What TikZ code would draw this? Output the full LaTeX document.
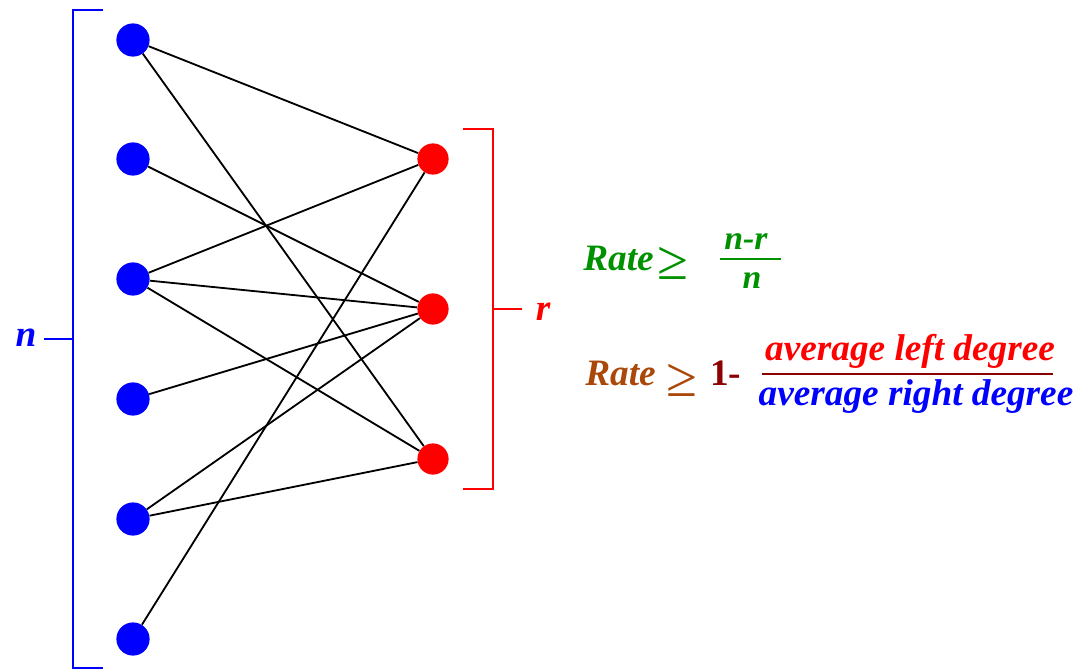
\documentclass[tikz,border=0pt]{standalone}
\usepackage{fontspec}
\setmainfont{Liberation Serif}
\definecolor{rategreen}{RGB}{0,145,0}
\definecolor{ratebrown}{RGB}{170,72,10}
\definecolor{darkred}{RGB}{140,0,0}

\begin{document}
\begin{tikzpicture}[x=0.025cm, y=-0.025cm,
    lvar/.style={circle, fill=blue, inner sep=0pt, minimum size=0.83cm},
    rvar/.style={circle, fill=red, inner sep=0pt, minimum size=0.78cm},
    link/.style={black, line width=1.3pt},
    bracket/.style={line width=2pt},
    txt/.style={inner sep=0pt, font=\fontsize{26.5}{30}\selectfont\bfseries\itshape},
    geq/.style={inner sep=0pt, font=\fontsize{40}{40}\selectfont}]
    \useasboundingbox (0,0) rectangle (1086,670);
    % Left variables
    \node[lvar] (l1) at (133,40) {};
    \node[lvar] (l2) at (133,159) {};
    \node[lvar] (l3) at (133,279) {};
    \node[lvar] (l4) at (133,399) {};
    \node[lvar] (l5) at (133,519) {};
    \node[lvar] (l6) at (133,639) {};
    % Right checks
    \node[rvar] (r1) at (433,159) {};
    \node[rvar] (r2) at (433,309) {};
    \node[rvar] (r3) at (433,459) {};
    % Edges
    \draw[link] (l1) -- (r1);
    \draw[link] (l1) -- (r3);
    \draw[link] (l2) -- (r2);
    \draw[link] (l3) -- (r1);
    \draw[link] (l3) -- (r2);
    \draw[link] (l3) -- (r3);
    \draw[link] (l4) -- (r2);
    \draw[link] (l5) -- (r2);
    \draw[link] (l5) -- (r3);
    \draw[link] (l6) -- (r1);
    % Brackets
    \draw[bracket, blue] (103,10) -- (73,10) -- (73,668) -- (103,668);
    \draw[bracket, blue] (73,339) -- (44,339);
    \node[txt, blue, anchor=base] (nlab) at (26,346) {n};
    \draw[bracket, red] (463,129) -- (493,129) -- (493,489) -- (463,489);
    \draw[bracket, red] (493,309) -- (522,309);
    \node[txt, red, anchor=base] (rlab) at (543,320) {r};
    % First bound
    \node[txt, rategreen, anchor=base west] (rate1) at (583,270) {Rate};
    \node[geq, rategreen, anchor=base west] (geq1) at (657,279) {≥};
    \node[txt, rategreen, anchor=base, font=\fontsize{24}{28}\selectfont\bfseries\itshape] (num1) at (746,249) {n-r};
    \node[txt, rategreen, anchor=base, font=\fontsize{24}{28}\selectfont\bfseries\itshape] (den1) at (752,288) {n};
    \draw[rategreen, line width=1.5pt] (720,259) -- (781,259);
    % Second bound
    \node[txt, ratebrown, anchor=base west] (rate2) at (585,385) {Rate};
    \node[geq, ratebrown, anchor=base west] (geq2) at (666,396) {≥};
    \node[txt, darkred, anchor=base west, font=\fontsize{26.5}{30}\selectfont\bfseries] (one) at (710,385) {1-};
    \node[txt, red, anchor=base] (num2) at (910,360) {average left degree};
    \node[txt, blue, anchor=base] (den2) at (916,405) {average right degree};
    \draw[darkred, line width=2pt] (762,374) -- (1053,374);
\end{tikzpicture}
\end{document}
